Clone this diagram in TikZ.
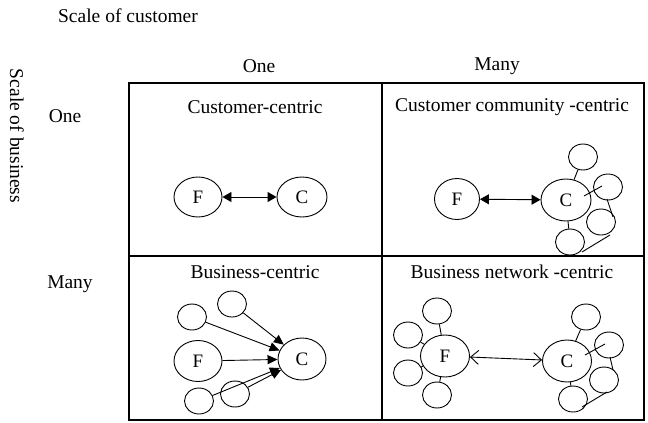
\documentclass[tikz,border=0pt]{standalone}
\usepackage{fontspec}
\setmainfont{Liberation Serif}
\usetikzlibrary{shapes.geometric,arrows.meta,calc}
\tikzset{
  lbl/.style={font=\fontsize{19.5}{22}\selectfont, inner sep=0pt},
  big/.style={ellipse, draw, line width=0.9pt, minimum width=48pt, minimum height=40pt, inner sep=0pt, font=\fontsize{19}{22}\selectfont},
  sm/.style={ellipse, draw, line width=0.9pt, minimum width=29pt, minimum height=26pt, inner sep=0pt},
  conn/.style={line width=0.9pt},
  fil/.style={conn, {Triangle[length=9pt,width=10pt]}-{Triangle[length=9pt,width=10pt]}},
  onearr/.style={conn, -{Triangle[length=10pt,width=9pt]}},
  opn/.style={conn, {Straight Barb[length=8pt,width=14pt]}-{Straight Barb[length=8pt,width=14pt]}},
  grid/.style={line width=1.3pt}
}
\begin{document}
\begin{tikzpicture}[x=1pt,y=-1pt]
\useasboundingbox (0,0) rectangle (648,423);
% grid
\draw[grid] (129,83) rectangle (644,420);
\draw[grid] (382,83) -- (382,420);
\draw[grid] (129,256) -- (644,256);
% labels
\node[lbl] (t1) at (128,16) {Scale of customer};
\node[lbl] (t2) at (259,66) {One};
\node[lbl] (t3) at (497,66) {Many};
\node[lbl, rotate=-90] (t4) at (17,136) {Scale of business};
\node[lbl] (t5) at (65,116) {One};
\node[lbl] (t6) at (70,284) {Many};
\node[lbl] (t7) at (255,107) {Customer-centric};
\node[lbl] (t8) at (512,107) {Customer community -centric};
\node[lbl] (t9) at (255,272) {Business-centric};
\node[lbl] (t10) at (512,272) {Business network -centric};
% top-left
\node[big] (F1) at (198,197) {F};
\node[big, minimum width=50pt] (C1) at (302,197) {C};
\draw[fil] (F1) -- (C1);
% top-right
\node[big, minimum width=45pt, minimum height=41pt] (F2) at (457,199) {F};
\node[big, minimum width=50pt, minimum height=42pt] (C2) at (566,200) {C};
\node[sm] (a2) at (583,157) {};
\node[sm] (b2) at (608,187) {};
\node[sm] (c2) at (601,222) {};
\node[sm] (d2) at (570,242) {};
\draw[fil] (F2) -- (C2);
\draw[conn] (a2) -- (C2);
\draw[conn] ($(C2.center)+(18,-4)$) -- ($(b2.center)+(-6,-1)$);
\draw[conn] ($(b2.center)+(-1,12)$) -- ($(c2.center)+(12,-5)$);
\draw[conn] ($(c2.center)+(9,13)$) -- ($(d2.center)+(12,10)$);
\draw[conn] (d2) -- (C2);
% bottom-left
\node[big, minimum height=41pt] (F3) at (198,361) {F};
\node[big, minimum height=42pt] (C3) at (302,359) {C};
\node[sm] (a3) at (192,317) {};
\node[sm] (b3) at (232,304) {};
\node[sm] (c3) at (199,401) {};
\node[sm] (d3) at (235,394) {};
\draw[onearr] (b3) -- (C3);
\draw[onearr] (a3) -- (C3);
\draw[onearr] (F3) -- (C3);
\draw[onearr] (c3) -- (C3);
\draw[onearr] (d3) -- (C3);
% bottom-right
\node[big, minimum width=49pt, minimum height=42pt] (F4) at (445,356) {F};
\node[big, minimum width=49pt, minimum height=42pt] (C4) at (567,361) {C};
\node[sm] (e4) at (437,311) {};
\node[sm] (f4) at (408,335) {};
\node[sm] (g4) at (408,373) {};
\node[sm] (h4) at (437,395) {};
\node[sm] (a4) at (586,317) {};
\node[sm] (b4) at (609,345) {};
\node[sm] (c4) at (604,380) {};
\node[sm] (d4) at (573,399) {};
\draw[opn] (F4) -- (C4);
\draw[conn] (e4) -- (F4);
\draw[conn] (f4) -- (F4);
\draw[conn] (g4) -- (F4);
\draw[conn] (h4) -- (F4);
\draw[conn] (a4) -- (C4);
\draw[conn] ($(C4.center)+(18,-6)$) -- ($(b4.center)+(-4,-1)$);
\draw[conn] ($(b4.center)+(1,12)$) -- ($(c4.center)+(9,-10)$);
\draw[conn] ($(c4.center)+(3,12)$) -- ($(d4.center)+(9,8)$);
\draw[conn] (d4) -- (C4);
\end{tikzpicture}
\end{document}
